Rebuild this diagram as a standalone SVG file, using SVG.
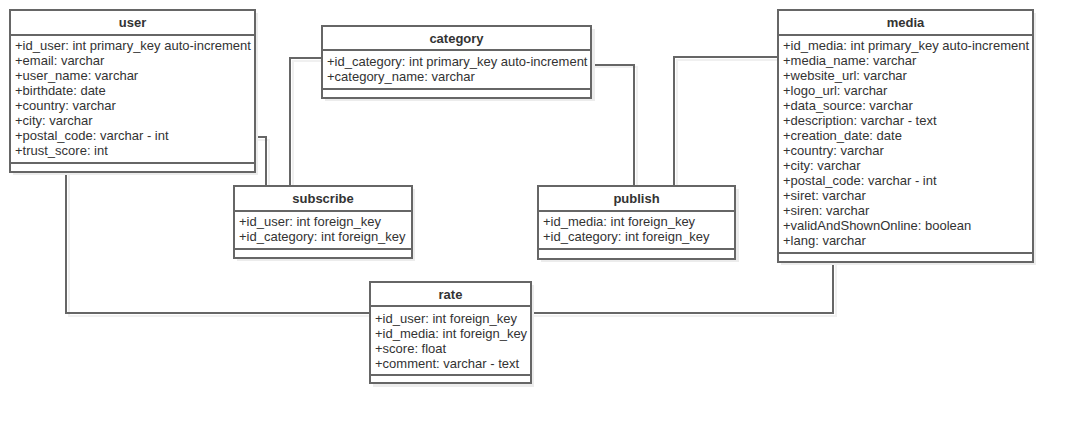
<svg xmlns="http://www.w3.org/2000/svg" width="1073" height="424" viewBox="0 0 1073 424">
<style>
.box{fill:#fff;stroke:#666;stroke-width:2}
.sh{fill:#ececec;stroke:none}
.sep{stroke:#666;stroke-width:2;fill:none}
.t{font-family:"Liberation Sans",Arial,sans-serif;font-size:13px;fill:#333}
.h{font-family:"Liberation Sans",Arial,sans-serif;font-size:13px;font-weight:bold;fill:#333;text-anchor:middle}
.c{fill:none;stroke:#666;stroke-width:2}
.cs{fill:none;stroke:#f0f0f0;stroke-width:2}
</style>
<rect width="1073" height="424" fill="#fff"/>
<g id="connectors">
<path class="cs" d="M258 140 H269 V189 M293 189 V61 H324 M594 67 H637 V189 M677 189 V60 H781 M836 265 V316 H534 M69 175 V316 H373"/>
<path class="c" d="M255 137 H266 V186"/>
<path class="c" d="M290 186 V58 H321"/>
<path class="c" d="M591 65 H634 V186"/>
<path class="c" d="M674 186 V57 H778"/>
<path class="c" d="M833 262 V313 H531"/>
<path class="c" d="M66 172 V313 H370"/>
</g>
<g id="user">
<rect class="sh" x="13" y="13" width="245" height="162"/>
<rect class="box" x="10" y="10" width="245" height="162"/>
<path class="sep" d="M10 35 H255 M10 163 H255"/>
<text class="h" x="132.5" y="27">user</text>
<text class="t" x="15" y="50">+id_user: int primary_key auto-increment</text>
<text class="t" x="15" y="65">+email: varchar</text>
<text class="t" x="15" y="80">+user_name: varchar</text>
<text class="t" x="15" y="95">+birthdate: date</text>
<text class="t" x="15" y="110">+country: varchar</text>
<text class="t" x="15" y="125">+city: varchar</text>
<text class="t" x="15" y="140">+postal_code: varchar - int</text>
<text class="t" x="15" y="155">+trust_score: int</text>
</g>
<g id="category">
<rect class="sh" x="325" y="29" width="270" height="72"/>
<rect class="box" x="322" y="26" width="269" height="72"/>
<path class="sep" d="M322 50 H591 M322 89 H591"/>
<text class="h" x="456.5" y="43">category</text>
<text class="t" x="327" y="66">+id_category: int primary_key auto-increment</text>
<text class="t" x="327" y="81">+category_name: varchar</text>
</g>
<g id="media">
<rect class="sh" x="781" y="13" width="255" height="252"/>
<rect class="box" x="778" y="10" width="255" height="252"/>
<path class="sep" d="M778 35 H1033 M778 253 H1033"/>
<text class="h" x="905.5" y="27">media</text>
<text class="t" x="783" y="50">+id_media: int primary_key auto-increment</text>
<text class="t" x="783" y="65">+media_name: varchar</text>
<text class="t" x="783" y="80">+website_url: varchar</text>
<text class="t" x="783" y="95">+logo_url: varchar</text>
<text class="t" x="783" y="110">+data_source: varchar</text>
<text class="t" x="783" y="125">+description: varchar - text</text>
<text class="t" x="783" y="140">+creation_date: date</text>
<text class="t" x="783" y="155">+country: varchar</text>
<text class="t" x="783" y="170">+city: varchar</text>
<text class="t" x="783" y="185">+postal_code: varchar - int</text>
<text class="t" x="783" y="200">+siret: varchar</text>
<text class="t" x="783" y="215">+siren: varchar</text>
<text class="t" x="783" y="230">+validAndShownOnline: boolean</text>
<text class="t" x="783" y="245">+lang: varchar</text>
</g>
<g id="subscribe">
<rect class="sh" x="237" y="189" width="178" height="72"/>
<rect class="box" x="234" y="186" width="178" height="72"/>
<path class="sep" d="M234 211 H412 M234 249 H412"/>
<text class="h" x="323" y="203">subscribe</text>
<text class="t" x="239" y="226">+id_user: int foreign_key</text>
<text class="t" x="239" y="241">+id_category: int foreign_key</text>
</g>
<g id="publish">
<rect class="sh" x="541" y="189" width="198" height="73"/>
<rect class="box" x="538" y="186" width="197" height="73"/>
<path class="sep" d="M538 211 H735 M538 249 H735"/>
<text class="h" x="636.5" y="203">publish</text>
<text class="t" x="543" y="226">+id_media: int foreign_key</text>
<text class="t" x="543" y="241">+id_category: int foreign_key</text>
</g>
<g id="rate">
<rect class="sh" x="373" y="285" width="161" height="102"/>
<rect class="box" x="370" y="282" width="161" height="101"/>
<path class="sep" d="M370 306 H531 M370 375 H531"/>
<text class="h" x="450.5" y="299">rate</text>
<text class="t" x="375" y="323">+id_user: int foreign_key</text>
<text class="t" x="375" y="338">+id_media: int foreign_key</text>
<text class="t" x="375" y="353">+score: float</text>
<text class="t" x="375" y="368">+comment: varchar - text</text>
</g>
</svg>
